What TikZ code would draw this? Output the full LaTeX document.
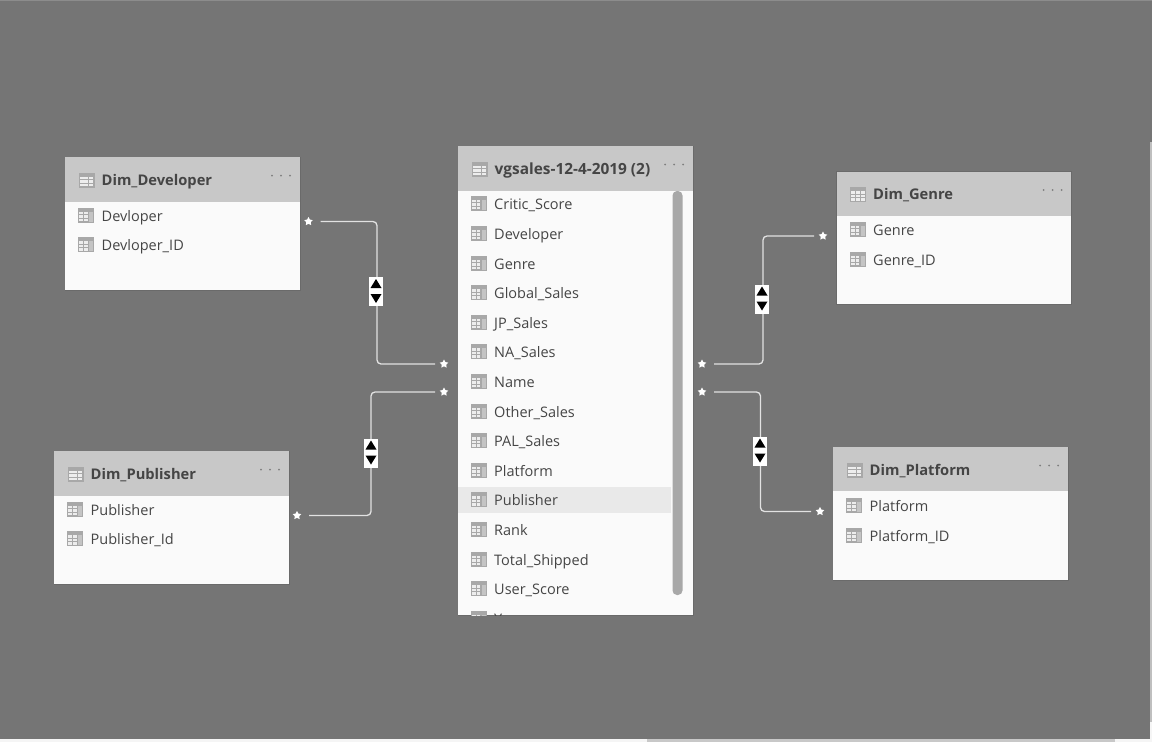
\documentclass[tikz,border=0pt]{standalone}
\usepackage{fontspec}
\setmainfont{Open Sans}
\usetikzlibrary{shapes.geometric,calc}
\definecolor{bgc}{HTML}{757575}
\definecolor{headc}{HTML}{C8C8C8}
\definecolor{bodyc}{HTML}{FAFAFA}
\definecolor{txtc}{HTML}{454545}
\definecolor{iconc}{HTML}{A8A8A8}
\definecolor{iconl}{HTML}{EDEDED}
\definecolor{iconm}{HTML}{C4C4C4}
\definecolor{wirec}{HTML}{E2E2E2}
\definecolor{hlc}{HTML}{E9E9E9}
\definecolor{edgec}{HTML}{6A6A6A}
\definecolor{dotc}{HTML}{7E7E7E}
\tikzset{
  x=1pt,y=-1pt,
  card/.style={draw=none,fill=bodyc,inner sep=0pt,anchor=north west},
  headbar/.style={fill=headc,inner sep=0pt,anchor=north west},
  title/.style={anchor=base west,inner sep=0pt,text=txtc,font=\fontsize{14.7}{17}\selectfont\bfseries},
  field/.style={anchor=base west,inner sep=0pt,text=txtc,font=\fontsize{14.5}{17}\selectfont},
  manyend/.style={star,star points=5,star point ratio=1.9,fill=white,draw=none,inner sep=0pt,minimum size=9pt},
  wire/.style={draw=wirec,line width=1.3pt,rounded corners=4pt,shorten <=12pt,shorten >=9pt},
  badgebox/.style={fill=white,inner sep=0pt,minimum width=14pt,minimum height=29pt},
  tri/.style={fill=black}
}
% column icon centred at x,y
\newcommand{\colicon}[2]{%
  \fill[iconc] (#1-8,#2-7.5) rectangle (#1+8,#2+7.5);
  \fill[iconm] (#1+3,#2-3.5) rectangle (#1+7.2,#2+6.5);
  \foreach \cy in {-3.5,0,3.5}{\foreach \cx in {-6.8,-2}{
    \fill[iconl] (#1+\cx,#2+\cy) rectangle ++(3.9,2.7);}}
}
% table icon centred at x,y
\newcommand{\tabicon}[2]{%
  \fill[iconc] (#1-8,#2-7.5) rectangle (#1+8,#2+7.5);
  \foreach \cy in {-3.5,0,3.5}{\foreach \cx in {-6.8,-2.1,2.6}{
    \fill[iconl] (#1+\cx,#2+\cy) rectangle ++(3.9,2.7);}}
}
% card: name, x0, y0, x1, y1, ybar, title
\newcommand{\cardbox}[7]{%
  \fill[edgec] (#2-.5,#3-.5) rectangle (#4+.5,#5+.5);
  \node[card,minimum width=#4pt-#2pt,minimum height=#5pt-#3pt] (#1) at (#2,#3) {};
  \node[headbar,minimum width=#4pt-#2pt,minimum height=#6pt-#3pt] (#1h) at (#2,#3) {};
  \tabicon{#2+21.5}{#3+23}
  \node[title] (#1t) at (#2+36.5,#3+28.5) {#7};
  \foreach \dx in {207,216,225}{\fill[dotc] (#2+\dx,#3+18.5) circle (1);}
}
\newcommand{\rowitem}[4]{%
  \colicon{#2+21}{#3}
  \node[field] (#1) at (#2+36.5,#3+6) {#4};
}
\newcommand{\badgeat}[3]{%
  \node[badgebox] (#1) at (#2,#3) {};
  \fill[tri] (#2-5.5,#3-3.5) -- (#2+5.5,#3-3.5) -- (#2,#3-12.5) -- cycle;
  \fill[tri] (#2-5.5,#3+2.5) -- (#2+5.5,#3+2.5) -- (#2,#3+11.5) -- cycle;
}
\begin{document}
\begin{tikzpicture}
\useasboundingbox (0,0) rectangle (1152,742);
\fill[bgc] (0,0) rectangle (1152,742);
\fill[black!45] (0,0) rectangle (1152,1);
\fill[white!96!black] (0,739) rectangle (1152,742);
\fill[headc] (647,739) rectangle (1115,742);
\fill[black!25] (1150,142) rectangle (1152,722);
\fill[white!96!black] (1150,722) rectangle (1152,739);

% Developer
\cardbox{dev}{65}{157}{300}{290}{202}{Dim\_Developer}
\rowitem{devA}{65}{215}{Devloper}
\rowitem{devB}{65}{244.5}{Devloper\_ID}
% Publisher
\cardbox{pub}{54}{451}{289}{584}{496}{Dim\_Publisher}
\rowitem{pubA}{54}{509}{Publisher}
\rowitem{pubB}{54}{538.5}{Publisher\_Id}
% Genre
\cardbox{gen}{836.5}{171.5}{1071}{304}{216}{\raisebox{1pt}{Dim\_Genre}}
\rowitem{genA}{836.5}{229}{Genre}
\rowitem{genB}{836.5}{259}{Genre\_ID}
% Platform
\cardbox{pla}{833}{447}{1068}{580}{491}{Dim\_Platform}
\rowitem{plaA}{833}{505}{Platform}
\rowitem{plaB}{833}{535}{Platform\_ID}
% Fact table
\cardbox{fact}{458}{146}{693}{615}{191}{\fontsize{15.4}{17}\selectfont vgsales-12-4-2019 (2)}
\fill[hlc] (458,487) rectangle (671,513);
\begin{scope}
\clip (458,191) rectangle (693,615);
\rowitem{f1}{457.5}{203}{Critic\_Score}
\rowitem{f2}{457.5}{233}{Developer}
\rowitem{f3}{457.5}{263}{Genre}
\rowitem{f4}{457.5}{292.5}{Global\_Sales}
\rowitem{f5}{457.5}{322}{JP\_Sales}
\rowitem{f6}{457.5}{351.5}{NA\_Sales}
\rowitem{f7}{457.5}{381}{Name}
\rowitem{f8}{457.5}{411}{Other\_Sales}
\rowitem{f9}{457.5}{440.5}{PAL\_Sales}
\rowitem{f10}{457.5}{470}{Platform}
\rowitem{f11}{457.5}{499.5}{Publisher}
\rowitem{f12}{457.5}{529}{Rank}
\rowitem{f13}{457.5}{559}{Total\_Shipped}
\rowitem{f14}{457.5}{588.5}{User\_Score}
\rowitem{f15}{457.5}{618}{Year}
\end{scope}
\fill[iconc,rounded corners=4.5pt] (672.5,191) rectangle (682.5,595);

% Multiplicity ends
\node[manyend] (s1) at (308.5,221.5) {};
\node[manyend] (t1) at (444,364) {};
\node[manyend] (s2) at (297,515.5) {};
\node[manyend] (t2) at (444,392) {};
\node[manyend] (s3) at (702,364) {};
\node[manyend] (t3) at (823,236) {};
\node[manyend] (s4) at (702,392) {};
\node[manyend] (t4) at (820,511.5) {};

% Vertical run of each connector
\coordinate (c1) at (377,292);
\coordinate (c2) at (371,453);
\coordinate (c3) at (763,299);
\coordinate (c4) at (760.5,451);
\draw[wire] (s1.center) -| (c1) |- (t1.center);
\draw[wire] (s2.center) -| (c2) |- (t2.center);
\draw[wire] (s3.center) -| (c3) |- (t3.center);
\draw[wire] (s4.center) -| (c4) |- (t4.center);
\badgeat{b1}{376}{291.5}
\badgeat{b2}{371}{453}
\badgeat{b3}{762}{299}
\badgeat{b4}{760}{451}
\end{tikzpicture}
\end{document}
